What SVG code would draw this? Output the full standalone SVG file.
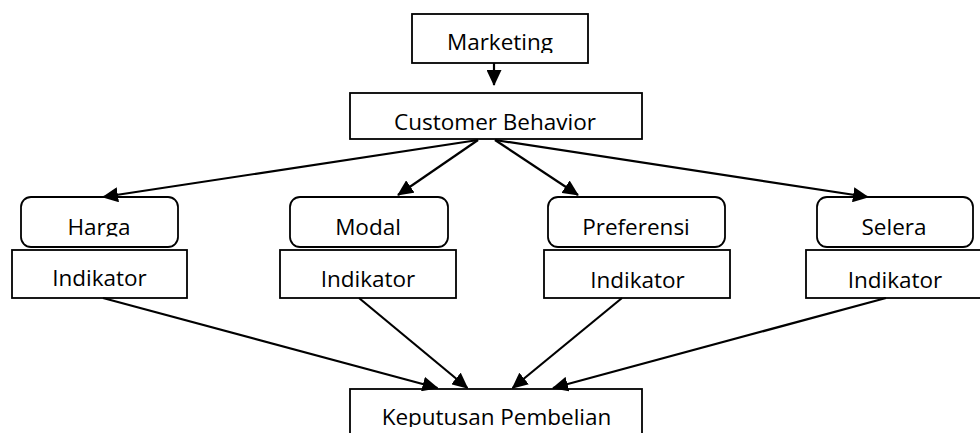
<svg xmlns="http://www.w3.org/2000/svg" width="980" height="433" viewBox="0 0 980 433">
  <defs>
    <marker id="ah" markerUnits="userSpaceOnUse" markerWidth="16" markerHeight="15" viewBox="0 0 16 15" refX="15" refY="7.5" orient="auto">
      <path d="M0,0 L16,7.5 L0,15 z" fill="#000"/>
    </marker>
    <clipPath id="cMkt"><rect x="412" y="14" width="176" height="39"/></clipPath>
    <clipPath id="cRow"><rect x="0" y="197" width="980" height="39.5"/></clipPath>
    <clipPath id="cKep"><rect x="350" y="389" width="292" height="38"/></clipPath>
  </defs>
  <style>
    .box { fill: #fff; stroke: #000; stroke-width: 1.8; }
    .t { font-family: "Open Sans", "Noto Sans", "Liberation Sans", sans-serif; font-size: 22.5px; fill: #000; text-anchor: middle; }
    .conn line { stroke: #000; stroke-width: 2.2; marker-end: url(#ah); }
  </style>
  <rect width="980" height="433" fill="#fff"/>

  <g id="marketing">
    <rect class="box" x="412" y="14" width="176" height="49"/>
    <text class="t" x="500" y="50" clip-path="url(#cMkt)">Marketing</text>
  </g>

  <g id="customer-behavior">
    <rect class="box" x="350" y="93" width="292" height="46"/>
    <text class="t" x="495" y="129.5">Customer Behavior</text>
  </g>

  <g id="harga">
    <rect class="box" x="21" y="197" width="157" height="50" rx="10" ry="10"/>
    <text class="t" x="99" y="235" clip-path="url(#cRow)">Harga</text>
  </g>
  <g id="harga-indikator">
    <rect class="box" x="12" y="250" width="175" height="48"/>
    <text class="t" x="99.5" y="286">Indikator</text>
  </g>

  <g id="modal">
    <rect class="box" x="290" y="197" width="158" height="50" rx="10" ry="10"/>
    <text class="t" x="368" y="235" clip-path="url(#cRow)">Modal</text>
  </g>
  <g id="modal-indikator">
    <rect class="box" x="280" y="250" width="176" height="48"/>
    <text class="t" x="368" y="286.5">Indikator</text>
  </g>

  <g id="preferensi">
    <rect class="box" x="548" y="197" width="177" height="50" rx="10" ry="10"/>
    <text class="t" x="636" y="235" clip-path="url(#cRow)">Preferensi</text>
  </g>
  <g id="preferensi-indikator">
    <rect class="box" x="544" y="250" width="186" height="48"/>
    <text class="t" x="637.5" y="288">Indikator</text>
  </g>

  <g id="selera">
    <rect class="box" x="817" y="197" width="156" height="50" rx="10" ry="10"/>
    <text class="t" x="894" y="235" clip-path="url(#cRow)">Selera</text>
  </g>
  <g id="selera-indikator">
    <rect class="box" x="806" y="250" width="176" height="48"/>
    <text class="t" x="895" y="288">Indikator</text>
  </g>

  <g id="keputusan-pembelian">
    <rect class="box" x="350" y="389" width="292" height="50"/>
    <text class="t" x="496.5" y="424.5" clip-path="url(#cKep)">Keputusan Pembelian</text>
  </g>

  <g id="connectors" class="conn">
    <line x1="494" y1="63" x2="494" y2="85"/>
    <line x1="478" y1="140" x2="103" y2="197"/>
    <line x1="478" y1="140" x2="398" y2="195"/>
    <line x1="495" y1="140" x2="578" y2="195"/>
    <line x1="495" y1="140" x2="868" y2="197"/>
    <line x1="103" y1="298" x2="437.5" y2="388"/>
    <line x1="359" y1="298" x2="467.5" y2="388"/>
    <line x1="622" y1="298" x2="512.5" y2="388"/>
    <line x1="886" y1="298" x2="553" y2="388"/>
  </g>
</svg>
